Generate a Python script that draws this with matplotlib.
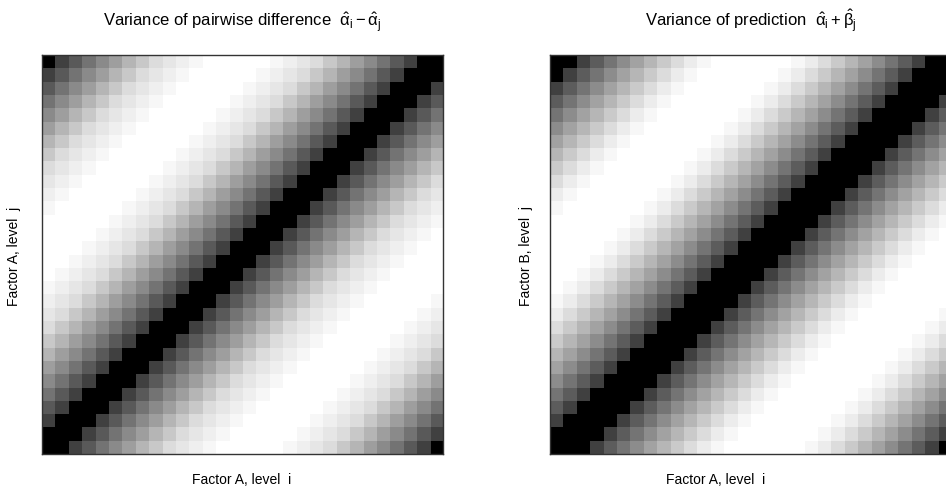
import matplotlib
matplotlib.use("Agg")
import matplotlib.pyplot as plt
import numpy as np

plt.rcParams['font.family'] = ['Liberation Sans', 'DejaVu Sans']
plt.rcParams['mathtext.fontset'] = 'custom'
plt.rcParams['mathtext.rm'] = 'Liberation Sans'
plt.rcParams['mathtext.it'] = 'Liberation Sans'
plt.rcParams['mathtext.bf'] = 'Liberation Sans:bold'

n_levels = 30
levels = np.arange(1, n_levels + 1)

# grey level (0-255) by cyclic distance |i - j|
diff_grey = [0, 0, 64, 90, 115, 138, 158, 181, 200, 220, 230, 239, 247, 255, 255, 255]
# grey level by cyclic distance from the half-step offset, right panel
pred_grey = [0, 0, 64, 92, 116, 140, 162, 182, 202, 220, 236, 247, 255, 255, 255]

titles = [r"Variance of pairwise difference  $\hat{\alpha}_{\mathrm{i}} - \hat{\alpha}_{\mathrm{j}}$",
          r"Variance of prediction  $\hat{\alpha}_{\mathrm{i}} + \hat{\beta}_{\mathrm{j}}$"]
xlabels = ["Factor A, level  i", "Factor A, level  i"]
ylabels = ["Factor A, level  j", "Factor B, level  j"]

I, J = np.meshgrid(levels, levels)
k = (I - J) % n_levels
d_diff = np.minimum(k, n_levels - k)
off = np.abs(k - 0.5)
d_pred = np.minimum(off, n_levels - off).astype(int)
mats = [np.array(diff_grey)[d_diff], np.array(pred_grey)[d_pred]]

W, H = 946, 489
fig = plt.figure(figsize=(W / 100, H / 100), dpi=100)
lefts = [42, 550]
xlab_x = [242, 716]
ylab_x = [14, 526]
for p in range(2):
    x0 = lefts[p]
    ax = fig.add_axes([x0 / W, 1 - 455 / H, 401 / W, 399 / H])
    ax.imshow(mats[p], cmap="gray", vmin=0, vmax=255, origin="lower",
              extent=(0.5, n_levels + 0.5, 0.5, n_levels + 0.5),
              aspect="auto", interpolation="nearest")
    ax.set_xticks([])
    ax.set_yticks([])
    for s in ax.spines.values():
        s.set_color("#333333")
        s.set_linewidth(1)
    cx = (x0 + 200.5) / W
    fig.text(cx, 1 - 27 / H, titles[p], ha="center", va="baseline", fontsize=12)
    fig.text(xlab_x[p] / W, 1 - 484 / H, xlabels[p], ha="center", va="baseline", fontsize=10)
    fig.text(ylab_x[p] / W, 1 - 256 / H, ylabels[p], ha="center", va="center",
             rotation=90, fontsize=10)

plt.savefig("out.png", dpi=100)
plt.close()
